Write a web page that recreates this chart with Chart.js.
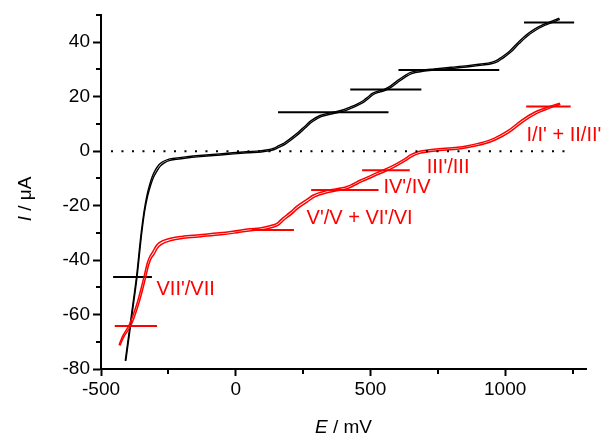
<!DOCTYPE html>
<html>
<head>
<meta charset="utf-8">
<script src="https://cdn.jsdelivr.net/npm/chart.js@4/dist/chart.umd.min.js"></script>
<style>
html,body{margin:0;padding:0;background:#fff;}
canvas{display:block;}
</style>
</head>
<body>
<canvas id="c" width="603" height="433"></canvas>
<script>
// ---- data (E in mV, I in µA) ----
const blackFwdE = [-410,-395,-380,-368,-352,-340,-330,-320,-310,-298,-285,-271,-250,-234,-180,-134,-60,-11,40,90,120,139,160,180,200,218,235,255,280,313,362,400,425,450,474,492,507,530,549,575,600,625,649,690,736,800,861,910,948,970,985,1015,1048,1080,1109,1135,1160,1180,1201];
const blackFwdI = [-77,-66,-55,-46,-31,-22,-16.5,-12.5,-9.4,-6.9,-5,-3.9,-3.0,-2.7,-2.0,-1.6,-1.0,-0.6,-0.2,0.1,0.5,1.0,2.0,3.0,4.4,5.8,7.2,9.0,11.2,13.1,14.3,15.2,16.2,17.3,18.6,20.0,21.2,22.1,22.6,24.0,25.9,27.6,28.9,29.7,30.2,30.8,31.4,32.0,32.6,33.4,34.4,36.6,39.9,42.8,44.8,46.2,47.2,48.0,48.8];
const blackRevE = [-408,-393,-378,-366,-350,-338,-327,-316,-305,-292,-279,-265,-244,-228,-176,-130,-56,-7,44,94,124,143,164,184,204,222,239,259,284,317,366,404,429,454,478,496,511,534,553,579,604,629,653,694,740,804,865,914,952,974,989,1019,1052,1084,1113,1139,1163,1183,1203];
const blackRevI = [-77,-66,-55,-46,-31,-22,-16.5,-12.6,-9.6,-7.2,-5.4,-4.3,-3.4,-3.1,-2.4,-2.0,-1.4,-1.0,-0.6,-0.3,0.1,0.6,1.6,2.6,4.0,5.4,6.8,8.6,10.8,12.7,13.9,14.8,15.8,16.9,18.2,19.6,20.8,21.7,22.2,23.6,25.5,27.2,28.5,29.3,29.8,30.4,31.0,31.6,32.2,33.0,34.0,36.2,39.5,42.4,44.4,45.8,46.8,47.6,48.4];

const redFwdE = [-433,-420,-396,-380,-365,-350,-340,-328,-318,-310,-297,-284,-246,-200,-134,-60,-11,52,90,127,153,175,201,226,260,288,338,413,463,525,575,624,650,674,700,736,823,861,922,960,1010,1060,1109,1159,1203];
const redFwdI = [-71.2,-68,-64,-60,-55.5,-50,-46,-41,-38.5,-37.3,-35,-33.6,-32.1,-31.3,-30.7,-30,-29.4,-28.5,-28.2,-27.4,-26.5,-24.5,-22.5,-20.3,-18,-16.1,-14.5,-13,-10.6,-7.9,-5.7,-3.0,-1.3,-0.3,0.2,0.7,1.4,2.0,3.4,4.8,7.5,11.3,14.3,16.2,17.6];
const redRevE = [-430,-416,-391,-375,-360,-345,-335,-323,-313,-304,-291,-277,-239,-194,-129,-55,-6,57,95,132,158,180,206,231,265,293,343,418,468,530,580,629,655,679,705,741,828,866,927,965,1015,1065,1114,1163,1205];
const redRevI = [-71.4,-68.3,-64.4,-60.5,-56,-50.6,-46.6,-41.7,-39.2,-38,-35.7,-34.3,-32.8,-32,-31.4,-30.7,-30.1,-29.2,-28.9,-28.1,-27.2,-25.2,-23.2,-21,-18.7,-16.8,-15.2,-13.6,-11.2,-8.5,-6.3,-3.6,-1.9,-0.9,-0.4,0.1,0.8,1.4,2.8,4.2,6.9,10.7,13.7,15.7,17.2];

// horizontal level markers: [E start, E end, I]
const blackLevels = [[157,567,14.3],[425,689,22.6],[604,978,29.8],[1070,1256,47.2],[-455,-311,-46.2]];
const redLevels = [[-449,-292,-64.2],[60,216,-29.0],[280,530,-14.3],[469,646,-7.0],[1078,1243,16.4]];

// zero line extent
const zeroLineE = [-463,1235];

// red labels: text and anchor (E, I) at left/baseline
const labelTexts = ["VII'/VII","V'/V + VI'/VI","IV'/IV","III'/III","I/I' + II/II'"];
const labelE = [-294,263,548,709,1079];
const labelI = [-52.8,-26.6,-15.3,-8.2,3.8];

// axes
const xMajorTicks = [-500,0,500,1000];
const xMinorTicks = [-250,250,750,1250];
const yMajorTicks = [-80,-60,-40,-20,0,20,40];
const yMinorTicks = [-70,-50,-30,-10,10,30,50];
const xRange = [-500,1300];
const yRange = [-80,50];

// ---- build datasets ----
const pts = (E,I)=>E.map((e,i)=>({x:e,y:I[i]}));
const datasets = [];
datasets.push({data:[{x:zeroLineE[0],y:0},{x:zeroLineE[1],y:0}],borderColor:'#000',borderWidth:2,borderDash:[2,8.5],order:0});
redLevels.forEach(l=>datasets.push({data:[{x:l[0],y:l[2]},{x:l[1],y:l[2]}],borderColor:'#ff0000',borderWidth:2,order:1}));
datasets.push({data:pts(redFwdE,redFwdI),borderColor:'#ff0000',borderWidth:1.5,cubicInterpolationMode:'monotone',order:2});
datasets.push({data:pts(redRevE,redRevI),borderColor:'#ff0000',borderWidth:1.5,cubicInterpolationMode:'monotone',order:2});
blackLevels.forEach(l=>datasets.push({data:[{x:l[0],y:l[2]},{x:l[1],y:l[2]}],borderColor:'#000',borderWidth:2,order:3}));
datasets.push({data:pts(blackFwdE,blackFwdI),borderColor:'#000',borderWidth:1.4,cubicInterpolationMode:'monotone',order:4});
datasets.push({data:pts(blackRevE,blackRevI),borderColor:'#000',borderWidth:1.4,cubicInterpolationMode:'monotone',order:4});
datasets.forEach(d=>{d.pointRadius=0;d.showLine=true;d.fill=false;});

const FONT = '"Liberation Sans", Arial, sans-serif';

const extras = {
  id:'extras',
  afterDraw(chart){
    const {ctx, chartArea:ca, scales:{x,y}} = chart;
    ctx.save();
    // minor ticks
    ctx.strokeStyle='#000'; ctx.lineWidth=2;
    xMinorTicks.forEach(v=>{const px=Math.round(x.getPixelForValue(v));ctx.beginPath();ctx.moveTo(px,ca.bottom);ctx.lineTo(px,ca.bottom+5);ctx.stroke();});
    yMinorTicks.forEach(v=>{const py=Math.round(y.getPixelForValue(v));ctx.beginPath();ctx.moveTo(ca.left,py);ctx.lineTo(ca.left-5,py);ctx.stroke();});
    // red labels
    ctx.fillStyle='#ff0000';
    ctx.font='20px '+FONT;
    ctx.textBaseline='alphabetic'; ctx.textAlign='left';
    labelTexts.forEach((t,i)=>ctx.fillText(t,x.getPixelForValue(labelE[i]),y.getPixelForValue(labelI[i])));
    // x title: E / mV
    ctx.fillStyle='#000';
    const fsz=19;
    const itF='italic '+fsz+'px '+FONT, nF=fsz+'px '+FONT;
    ctx.font=itF; const wE=ctx.measureText('E').width;
    ctx.font=nF; const wR=ctx.measureText(' / mV').width;
    let cx=(ca.left+ca.right)/2 - (wE+wR)/2;
    ctx.font=itF; ctx.fillText('E',cx,433);
    ctx.font=nF; ctx.fillText(' / mV',cx+wE,433);
    // y title: I / µA (rotated)
    ctx.save();
    ctx.translate(31,199);
    ctx.rotate(-Math.PI/2);
    ctx.font=itF; const wI=ctx.measureText('I').width;
    ctx.font=nF; const wR2=ctx.measureText(' / \u03bcA').width;
    const sx=-(wI+wR2)/2;
    ctx.font=itF; ctx.fillText('I',sx,0);
    ctx.font=nF; ctx.fillText(' / \u03bcA',sx+wI,0);
    ctx.restore();
    ctx.restore();
  }
};

new Chart(document.getElementById('c'),{
  type:'scatter',
  data:{datasets},
  options:{
    responsive:false,
    animation:false,
    devicePixelRatio:1,
    layout:{padding:{left:0,right:17,top:15,bottom:0}},
    plugins:{legend:{display:false},tooltip:{enabled:false}},
    scales:{
      x:{
        type:'linear',min:xRange[0],max:xRange[1],
        afterBuildTicks:s=>{s.ticks=xMajorTicks.map(v=>({value:v}));},
        afterFit:s=>{s.height=64;},
        grid:{drawOnChartArea:false,drawTicks:true,tickLength:7,tickWidth:2,tickColor:'#000'},
        border:{display:true,color:'#000',width:2},
        ticks:{color:'#000',font:{family:FONT,size:19},padding:2,maxRotation:0,autoSkip:false,callback:v=>String(v)}
      },
      y:{
        type:'linear',min:yRange[0],max:yRange[1],
        afterBuildTicks:s=>{s.ticks=yMajorTicks.map(v=>({value:v}));},
        afterFit:s=>{s.width=101;},
        grid:{drawOnChartArea:false,drawTicks:true,tickLength:8,tickWidth:2,tickColor:'#000'},
        border:{display:true,color:'#000',width:2},
        ticks:{color:'#000',font:{family:FONT,size:19},padding:3,autoSkip:false,callback:v=>String(v)}
      }
    }
  },
  plugins:[extras]
});
</script>
</body>
</html>
